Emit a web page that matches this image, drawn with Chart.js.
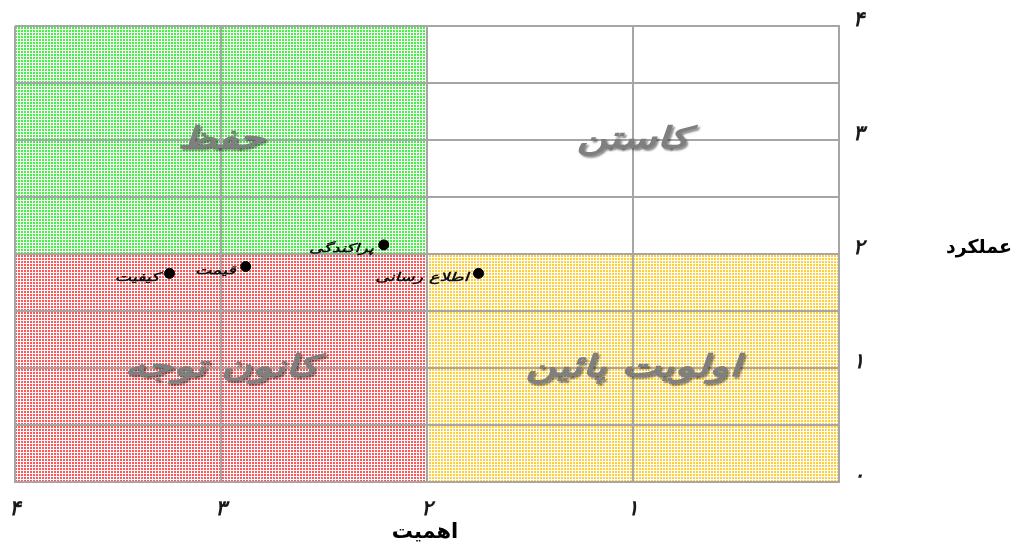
<!DOCTYPE html>
<html><head><meta charset="utf-8">
<script src="https://cdn.jsdelivr.net/npm/chart.js@4"></script>
<style>html,body{margin:0;padding:0;background:#fff}#wrap{width:1017px;height:544px}</style>
</head><body><div id="wrap"><canvas id="c" width="1017" height="544"></canvas></div>
<script>
// ---- data ----
const pointNames = ['پراکندگی', 'قیمت', 'کیفیت', 'اطلاع رسانی'];
const importance = [2.21, 2.88, 3.25, 1.75];
const performance = [2.08, 1.89, 1.83, 1.83];
const persianDigits = ['۰', '۱', '۲', '۳', '۴'];
const xTickLabels = ['', '۱', '۲', '۳', '۴'];
const quadrantNames = ['حفظ', 'کاستن', 'کانون توجه', 'اولویت پائین'];
const quadrantLabelX = [3, 1, 3, 1];
const quadrantLabelY = [3, 3, 1, 1];
const quadrantXFrom = [4, 2, 4, 2];
const quadrantXTo = [2, 0, 2, 0];
const quadrantYFrom = [4, 4, 2, 2];
const quadrantYTo = [2, 2, 0, 0];
const quadrantColors = ['#22f022', null, '#ff3a3a', '#ffc61a'];
const xTitle = 'اهمیت';
const yTitle = 'عملکرد';

function makePattern(ctx, color) {
  const t = document.createElement('canvas');
  t.width = 3; t.height = 3;
  const c = t.getContext('2d');
  c.fillStyle = '#ffffff'; c.fillRect(0, 0, 3, 3);
  c.globalAlpha = 0.85;
  c.fillStyle = color; c.fillRect(0, 0, 2, 2);
  return ctx.createPattern(t, 'repeat');
}

function wideText(ctx, text, px, py, sx) {
  ctx.save();
  ctx.translate(px, py);
  ctx.scale(sx, 1);
  ctx.fillText(text, 0, 0);
  ctx.restore();
}

const quadrantPlugin = {
  id: 'quadrants',
  beforeDraw(chart) {
    const { ctx, scales: { x, y } } = chart;
    ctx.save();
    for (let i = 0; i < quadrantNames.length; i++) {
      if (!quadrantColors[i]) continue;
      const x1 = x.getPixelForValue(quadrantXFrom[i]);
      const x2 = x.getPixelForValue(quadrantXTo[i]);
      const y1 = y.getPixelForValue(quadrantYFrom[i]);
      const y2 = y.getPixelForValue(quadrantYTo[i]);
      ctx.fillStyle = makePattern(ctx, quadrantColors[i]);
      ctx.fillRect(Math.min(x1, x2), Math.min(y1, y2), Math.abs(x2 - x1), Math.abs(y2 - y1));
    }
    ctx.restore();
  },
  afterDatasetsDraw(chart) {
    const { ctx, scales: { x, y } } = chart;
    ctx.save();
    // quadrant names
    ctx.font = 'italic bold 30px "DejaVu Sans"';
    ctx.textAlign = 'center';
    ctx.textBaseline = 'middle';
    for (let i = 0; i < quadrantNames.length; i++) {
      const px = x.getPixelForValue(quadrantLabelX[i]);
      const py = y.getPixelForValue(quadrantLabelY[i]);
      ctx.shadowColor = 'rgba(0,0,0,0.45)';
      ctx.shadowOffsetX = 2; ctx.shadowOffsetY = 2; ctx.shadowBlur = 2;
      ctx.fillStyle = '#7f7f7f';
      wideText(ctx, quadrantNames[i], px, py, 1.4);
    }
    ctx.shadowColor = 'transparent';
    // point labels
    ctx.font = 'italic bold 12px "DejaVu Sans"';
    ctx.textAlign = 'right';
    ctx.fillStyle = '#111111';
    for (let i = 0; i < pointNames.length; i++) {
      const px = x.getPixelForValue(importance[i]);
      const py = y.getPixelForValue(performance[i]);
      wideText(ctx, pointNames[i], px - 10, py + 4, 1.45);
    }
    // axis titles
    ctx.font = 'bold 21px "DejaVu Sans"';
    ctx.fillStyle = '#000000';
    ctx.textAlign = 'center';
    ctx.fillText(xTitle, 425, 533);
    ctx.font = 'bold 19px "DejaVu Sans"';
    ctx.fillText(yTitle, 979, 248);
    ctx.restore();
  }
};

const pts = importance.map((v, i) => ({ x: v, y: performance[i] }));

new Chart(document.getElementById('c'), {
  type: 'scatter',
  data: {
    datasets: [{
      data: pts,
      backgroundColor: '#000000',
      borderColor: '#000000',
      pointRadius: 5,
      pointHoverRadius: 5
    }]
  },
  options: {
    responsive: false,
    animation: false,
    devicePixelRatio: 1,
    layout: { padding: { left: 15, top: 26, right: 0, bottom: 0 } },
    plugins: { legend: { display: false }, tooltip: { enabled: false } },
    scales: {
      x: {
        type: 'linear',
        reverse: true,
        min: 0, max: 4,
        afterFit(s) { s.height = 62; s.paddingLeft = 0; s.paddingRight = 0; },
        border: { color: '#a6a6a6', width: 2 },
        grid: { color: '#a6a6a6', lineWidth: 2, drawTicks: false },
        ticks: {
          stepSize: 1,
          padding: 15,
          color: '#1a1a1a',
          font: { family: 'DejaVu Sans', size: 21, weight: 'bold', style: 'italic' },
          callback: v => xTickLabels[v]
        }
      },
      y: {
        type: 'linear',
        position: 'right',
        min: 0, max: 4,
        afterFit(s) { s.width = 178; s.paddingTop = 0; s.paddingBottom = 0; },
        border: { color: '#a6a6a6', width: 2 },
        grid: { color: '#a6a6a6', lineWidth: 2, drawTicks: false },
        ticks: {
          stepSize: 0.5,
          padding: 14,
          labelOffset: -5,
          color: '#1a1a1a',
          font: { family: 'DejaVu Sans', size: 21, weight: 'bold', style: 'italic' },
          callback: v => Number.isInteger(v) ? persianDigits[v] : ''
        }
      }
    }
  },
  plugins: [quadrantPlugin]
});
</script>
</body></html>
